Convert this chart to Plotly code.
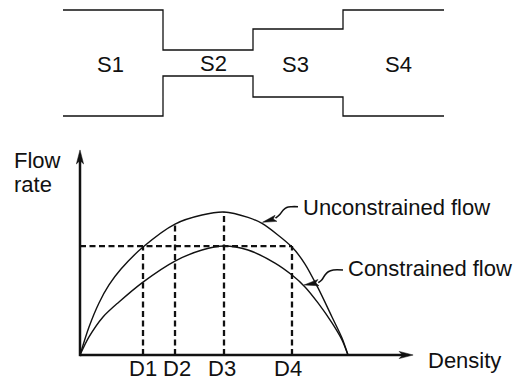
import math
import plotly.graph_objects as go

W, H = 517, 385

# ---------------- data ----------------
density_unc = [0, 3.36, 7.09, 10.82, 15.30, 23.51, 35.45, 45.52, 53.73, 62.69, 67.91,
               79.10, 83.96, 88.81, 94.03, 97.76, 100]
flow_unc = [0, 19.6, 36.4, 49.0, 60.1, 75.5, 91.6, 97.9, 100.0, 96.2, 92.0,
            75.5, 63.6, 46.9, 26.6, 11.9, 0]

density_con = [0, 3.36, 8.58, 14.55, 23.51, 35.45, 45.52, 53.73, 62.69, 72.76,
               79.10, 83.96, 88.81, 94.03, 97.76, 100]
flow_con = [0, 12.6, 26.6, 37.1, 51.0, 65.7, 73.4, 76.2, 73.4, 64.3,
            55.9, 47.6, 36.4, 22.4, 10.5, 0]

d_labels = ["D1", "D2", "D3", "D4"]
d_values = [23.51, 35.45, 53.73, 79.10]
d_tops = [76.2, 91.6, 100.0, 76.2]
d_label_shift = [0, 2, -2, -4]
capacity_constrained = 76.2

density_axis_max = 124.3
flow_axis_max = 143.4

section_labels = ["S1", "S2", "S3", "S4"]
curve_labels = ["Unconstrained flow", "Constrained flow"]
x_title = "Density"
y_title = ["Flow", "rate"]

# ---------------- geometry of the drawing ----------------
X0, KX = 80.0, 2.68      # pixel of density 0, pixels per density unit
Y0, KY = 355.0, 1.43     # pixel of flow 0, pixels per flow unit


def px(d):
    return X0 + KX * d


def py(f):
    return Y0 - KY * f


FONT = "Liberation Sans, Arial, sans-serif"
INK = "#111111"
FS = 22

channel_top = [(63, 10), (163, 10), (163, 50), (253, 50), (253, 29), (343, 29), (343, 10), (444, 10)]
channel_bot = [(63, 116), (163, 116), (163, 76), (253, 76), (253, 97), (343, 97), (343, 116), (444, 116)]
section_pos = [(110, 64), (213, 63), (295, 64), (398, 64)]

leader_unc = [(298, 206.7), (291.7, 206.7), (286.7, 207.4), (283.3, 210), (280, 214.2), (275.5, 218.2)]
leader_con = [(343, 270), (333.3, 270), (328.3, 271.7), (325, 275), (321.7, 280), (318.3, 282.7)]
arrow_unc = ((262.5, 222.3), (276, 218.3))
arrow_con = ((304, 285), (318.5, 282.6))


def path_from(points):
    return "M " + " L ".join(f"{x},{y}" for x, y in points)


def arrowhead(tip, back, hw, notch=0.25):
    tx, ty = tip
    bx, by = back
    dx, dy = bx - tx, by - ty
    L = math.hypot(dx, dy)
    ux, uy = dx / L, dy / L
    nx, ny = -uy, ux
    p1 = (bx + nx * hw, by + ny * hw)
    p2 = (tx + ux * L * (1 - notch), ty + uy * L * (1 - notch))
    p3 = (bx - nx * hw, by - ny * hw)
    return f"M {tx},{ty} L {p1[0]},{p1[1]} L {p2[0]},{p2[1]} L {p3[0]},{p3[1]} Z"


fig = go.Figure()

# curves
fig.add_trace(go.Scatter(x=density_unc, y=flow_unc, mode="lines",
                         line=dict(color=INK, width=1.4, shape="spline", smoothing=0.8),
                         xaxis="x", yaxis="y"))
fig.add_trace(go.Scatter(x=density_con, y=flow_con, mode="lines",
                         line=dict(color=INK, width=1.4, shape="spline", smoothing=0.8),
                         xaxis="x", yaxis="y"))

# dashed guides
DASH = "6px,3.5px"
for dv, top in zip(d_values, d_tops):
    fig.add_trace(go.Scatter(x=[dv, dv], y=[0, top], mode="lines",
                             line=dict(color=INK, width=2.3, dash=DASH)))
fig.add_trace(go.Scatter(x=[0, d_values[3]], y=[capacity_constrained, capacity_constrained],
                         mode="lines", line=dict(color=INK, width=2.3, dash=DASH)))

# leader squiggles (pixel space)
for pts in (leader_unc, leader_con):
    fig.add_trace(go.Scatter(x=[p[0] for p in pts], y=[p[1] for p in pts], mode="lines",
                             line=dict(color=INK, width=1.6, shape="spline"),
                             xaxis="x2", yaxis="y2"))

shapes = []
for pts in (channel_top, channel_bot):
    shapes.append(dict(type="path", path=path_from(pts), xref="x2", yref="y2",
                       line=dict(color=INK, width=1.3)))

# axes with arrows
ax_tip = (px(density_axis_max), py(0))
ay_tip = (px(0), py(flow_axis_max))
shapes.append(dict(type="line", x0=px(0), y0=py(0), x1=ax_tip[0] - 8, y1=py(0),
                   xref="x2", yref="y2", line=dict(color=INK, width=2.5)))
shapes.append(dict(type="line", x0=px(0), y0=py(0) + 1.2, x1=px(0), y1=ay_tip[1] + 8,
                   xref="x2", yref="y2", line=dict(color=INK, width=2.5)))
shapes.append(dict(type="path", path=arrowhead(ax_tip, (ax_tip[0] - 14, ax_tip[1]), 3.6),
                   xref="x2", yref="y2", fillcolor=INK, line=dict(color=INK, width=0.5)))
shapes.append(dict(type="path", path=arrowhead(ay_tip, (ay_tip[0], ay_tip[1] + 14), 3.6),
                   xref="x2", yref="y2", fillcolor=INK, line=dict(color=INK, width=0.5)))
for tip, back in (arrow_unc, arrow_con):
    shapes.append(dict(type="path", path=arrowhead(tip, back, 3.2, 0.2),
                       xref="x2", yref="y2", fillcolor=INK, line=dict(color=INK, width=0.5)))

annotations = []
for lab, (x, y) in zip(section_labels, section_pos):
    annotations.append(dict(text=lab, x=x, y=y, xref="x2", yref="y2", showarrow=False,
                            xanchor="center", yanchor="middle"))
for lab, dv, sh in zip(d_labels, d_values, d_label_shift):
    annotations.append(dict(text=lab, x=px(dv) + sh, y=368.3, xref="x2", yref="y2",
                            showarrow=False, xanchor="center", yanchor="middle"))
annotations.append(dict(text=curve_labels[0], x=301, y=207, xref="x2", yref="y2",
                        showarrow=False, xanchor="left", yanchor="middle"))
annotations.append(dict(text=curve_labels[1], x=346, y=268, xref="x2", yref="y2",
                        showarrow=False, xanchor="left", yanchor="middle"))
annotations.append(dict(text=x_title, x=426, y=360.5, xref="x2", yref="y2",
                        showarrow=False, xanchor="left", yanchor="middle"))
annotations.append(dict(text=y_title[0], x=12, y=160, xref="x2", yref="y2",
                        showarrow=False, xanchor="left", yanchor="middle"))
annotations.append(dict(text=y_title[1], x=12, y=184, xref="x2", yref="y2",
                        showarrow=False, xanchor="left", yanchor="middle"))

fig.update_layout(
    width=W, height=H,
    margin=dict(l=0, r=0, t=0, b=0, pad=0),
    paper_bgcolor="white", plot_bgcolor="white",
    showlegend=False, hovermode=False,
    font=dict(family=FONT, size=FS, color=INK),
    shapes=shapes, annotations=annotations,
    xaxis=dict(range=[(0 - X0) / KX, (W - X0) / KX], visible=False, fixedrange=True, domain=[0, 1]),
    yaxis=dict(range=[(Y0 - H) / KY, Y0 / KY], visible=False, fixedrange=True, domain=[0, 1]),
    xaxis2=dict(range=[0, W], visible=False, fixedrange=True, overlaying="x", anchor="y2"),
    yaxis2=dict(range=[H, 0], visible=False, fixedrange=True, overlaying="y", anchor="x2"),
)

fig.write_html("out.html", config={"displayModeBar": False},
               post_script="document.body.style.margin='0';document.body.style.padding='0';document.body.style.overflow='hidden';")
